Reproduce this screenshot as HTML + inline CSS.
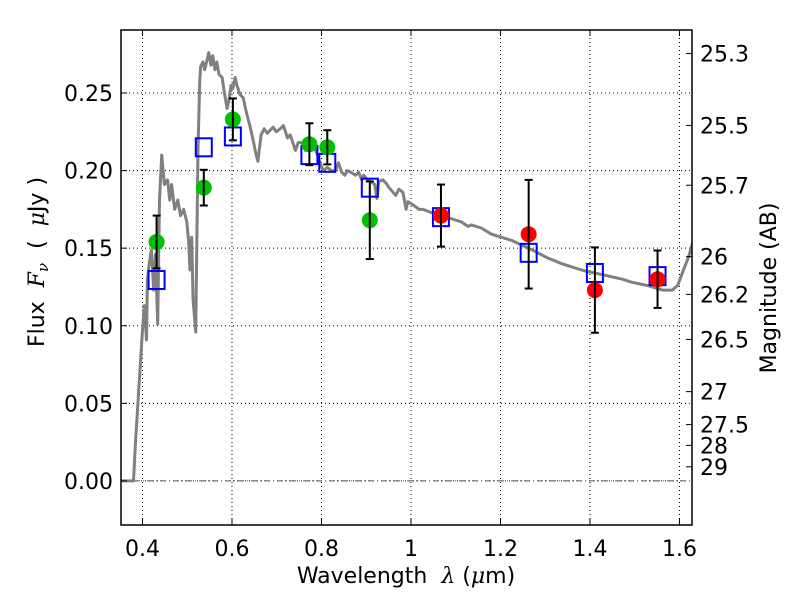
<!DOCTYPE html>
<html><head><meta charset="utf-8"><style>
body{margin:0;background:#fff}
svg{font-family:"DejaVu Sans","Liberation Sans",sans-serif}
text{white-space:pre}
</style></head><body>
<svg id="chart" width="800" height="600" xmlns="http://www.w3.org/2000/svg"></svg>
<script>
const modelLam=[0.351,0.380,0.384,0.393,0.400,0.404,0.409,0.411,0.416,0.420,0.425,0.429,0.434,0.438,0.443,0.449,0.456,0.461,0.465,0.472,0.479,0.485,0.492,0.499,0.503,0.506,0.510,0.513,0.519,0.524,0.528,0.530,0.535,0.539,0.544,0.548,0.553,0.557,0.562,0.566,0.571,0.578,0.582,0.589,0.593,0.598,0.602,0.607,0.611,0.618,0.625,0.631,0.636,0.640,0.647,0.654,0.658,0.665,0.672,0.679,0.685,0.692,0.699,0.708,0.715,0.724,0.730,0.742,0.748,0.757,0.764,0.771,0.775,0.784,0.791,0.798,0.804,0.813,0.822,0.831,0.838,0.845,0.852,0.858,0.865,0.876,0.883,0.890,0.894,0.903,0.910,0.919,0.924,0.928,0.937,0.944,0.951,0.960,0.966,0.973,0.982,0.989,0.993,1.004,1.018,1.027,1.045,1.067,1.090,1.112,1.128,1.135,1.157,1.180,1.202,1.225,1.247,1.270,1.303,1.337,1.369,1.393,1.427,1.472,1.494,1.528,1.562,1.584,1.596,1.609,1.620,1.631];
const modelFlux=[0,0,0.023,0.065,0.097,0.113,0.091,0.130,0.142,0.149,0.123,0.146,0.101,0.181,0.210,0.191,0.194,0.181,0.191,0.175,0.181,0.171,0.175,0.167,0.155,0.136,0.157,0.117,0.096,0.213,0.258,0.267,0.270,0.265,0.271,0.276,0.268,0.274,0.265,0.270,0.262,0.260,0.252,0.240,0.245,0.255,0.253,0.260,0.255,0.249,0.247,0.239,0.233,0.229,0.220,0.210,0.206,0.223,0.227,0.224,0.226,0.228,0.225,0.227,0.229,0.221,0.223,0.213,0.218,0.218,0.213,0.218,0.215,0.215,0.210,0.204,0.200,0.202,0.200,0.200,0.205,0.199,0.197,0.200,0.199,0.197,0.199,0.194,0.197,0.194,0.193,0.191,0.182,0.193,0.194,0.192,0.189,0.186,0.184,0.188,0.186,0.175,0.180,0.178,0.175,0.175,0.173,0.171,0.169,0.167,0.164,0.165,0.163,0.159,0.157,0.155,0.152,0.149,0.144,0.140,0.137,0.135,0.133,0.130,0.128,0.126,0.123,0.123,0.126,0.136,0.144,0.155];
const greenLam=[0.4315,0.537,0.602,0.773,0.813,0.908];
const greenFlux=[0.154,0.189,0.233,0.217,0.215,0.168];
const greenErr=[0.017,0.0115,0.0135,0.0135,0.011,0.025];
const redLam=[1.067,1.263,1.411,1.551];
const redFlux=[0.171,0.159,0.123,0.130];
const redErr=[0.020,0.035,0.0275,0.0185];
const boxLam=[0.4315,0.537,0.602,0.773,0.813,0.908,1.067,1.263,1.411,1.551];
const boxFlux=[0.1295,0.215,0.222,0.210,0.205,0.189,0.170,0.147,0.134,0.132];
const xTicks=[0.4,0.6,0.8,1.0,1.2,1.4,1.6];
const xTickLabels=["0.4","0.6","0.8","1","1.2","1.4","1.6"];
const yTicks=[0,0.05,0.10,0.15,0.20,0.25];
const yTickLabels=["0.00","0.05","0.10","0.15","0.20","0.25"];
const magTicks=[25.3,25.5,25.7,26,26.2,26.5,27,27.5,28,29];
const magTickLabels=["25.3","25.5","25.7","26","26.2","26.5","27","27.5","28","29"];

const L=121,R=692,T=30,B=525;
const X0=0.352,X1=1.628,Y0=-0.0284,Y1=0.2906;
const sx=v=>L+(v-X0)/(X1-X0)*(R-L);
const sy=v=>B-(v-Y0)/(Y1-Y0)*(B-T);
const NS="http://www.w3.org/2000/svg";
const svg=document.getElementById('chart');
function mk(tag,attrs,parent){const e=document.createElementNS(NS,tag);for(const k in attrs)e.setAttribute(k,attrs[k]);(parent||svg).appendChild(e);return e;}

const grid=mk('g',{});


xTicks.forEach(t=>{mk('line',{x1:sx(t),x2:sx(t),y1:T,y2:B,stroke:'#000','stroke-width':1,'stroke-dasharray':'1,3'},grid);});
yTicks.forEach(t=>{mk('line',{x1:L,x2:R,y1:sy(t),y2:sy(t),stroke:'#000','stroke-width':1,'stroke-dasharray':'1,3'},grid);});
const zl=mk('line',{x1:L,x2:R,y1:sy(0),y2:sy(0),stroke:'#555','stroke-width':1,'stroke-dasharray':'6,3,1,3'});



const cp=mk('clipPath',{id:'cp'});mk('rect',{x:L,y:T,width:R-L,height:B-T},cp);
const model=mk('polyline',{points:modelLam.map((l,i)=>sx(l)+','+sy(modelFlux[i])).join(' '),fill:'none',stroke:'#808080','stroke-width':3,'stroke-linejoin':'round','clip-path':'url(#cp)'});



boxLam.forEach((l,i)=>{const r=mk('rect',{x:sx(l)-8,y:sy(boxFlux[i])-9,width:16,height:18,fill:'none',stroke:'#0000ff','stroke-width':2});

});

function pts(lams,fl,er,col,name){lams.forEach((l,i)=>{const g=mk('g',{});


const x=sx(l),y1=sy(fl[i]+er[i]),y2=sy(fl[i]-er[i]);
mk('circle',{cx:x,cy:sy(fl[i]),r:8,fill:col},g);
mk('line',{x1:x,x2:x,y1:y1,y2:y2,stroke:'#000','stroke-width':2},g);
mk('line',{x1:x-4,x2:x+4,y1:y1,y2:y1,stroke:'#000','stroke-width':2},g);
mk('line',{x1:x-4,x2:x+4,y1:y2,y2:y2,stroke:'#000','stroke-width':2},g);});}
pts(greenLam,greenFlux,greenErr,'#00c000','green-data-point');
pts(redLam,redFlux,redErr,'#ff0000','red-data-point');

const fr=mk('rect',{x:L,y:T,width:R-L,height:B-T,fill:'none',stroke:'#000','stroke-width':1.5});


xTicks.forEach((t,i)=>{mk('line',{x1:sx(t),x2:sx(t),y1:B,y2:B-6,stroke:'#000'});mk('line',{x1:sx(t),x2:sx(t),y1:T,y2:T+6,stroke:'#000'});
const tx=mk('text',{x:sx(t),y:B+31,'text-anchor':'middle','font-size':22});tx.textContent=xTickLabels[i];

});
yTicks.forEach((t,i)=>{mk('line',{x1:L,x2:L+6,y1:sy(t),y2:sy(t),stroke:'#000'});
const tx=mk('text',{x:L-8,y:sy(t)+8,'text-anchor':'end','font-size':22});tx.textContent=yTickLabels[i];

});
magTicks.forEach((m,i)=>{const f=Math.pow(10,(23.9-m)/2.5);const y=sy(f);mk('line',{x1:R,x2:R-6,y1:y,y2:y,stroke:'#000'});
const tx=mk('text',{x:R+8,y:y+8,'font-size':22});tx.textContent=magTickLabels[i];

});

const xt=mk('text',{x:406,y:583,'text-anchor':'middle','font-size':22});
xt.innerHTML='Wavelength\u00a0\u00a0<tspan font-style="italic" font-family="DejaVu Serif,serif">λ</tspan>\u00a0(<tspan font-style="italic" font-family="DejaVu Serif,serif">μ</tspan>m)';


const yt=mk('text',{x:0,y:0,'text-anchor':'middle','font-size':22,transform:'translate(44,262) rotate(-90)'});
yt.innerHTML='Flux\u00a0\u00a0<tspan font-style="italic" font-family="DejaVu Serif,serif">F</tspan><tspan font-style="italic" font-size="15" dy="4" font-family="DejaVu Serif,serif">ν</tspan><tspan dy="-4">\u00a0\u00a0(\u00a0\u00a0</tspan><tspan font-style="italic" font-family="DejaVu Serif,serif">μ</tspan>Jy\u00a0)';


const rt=mk('text',{x:0,y:0,'text-anchor':'middle','font-size':22,transform:'translate(776,288) rotate(-90)'});
rt.textContent='Magnitude (AB)';


</script>
</body></html>
